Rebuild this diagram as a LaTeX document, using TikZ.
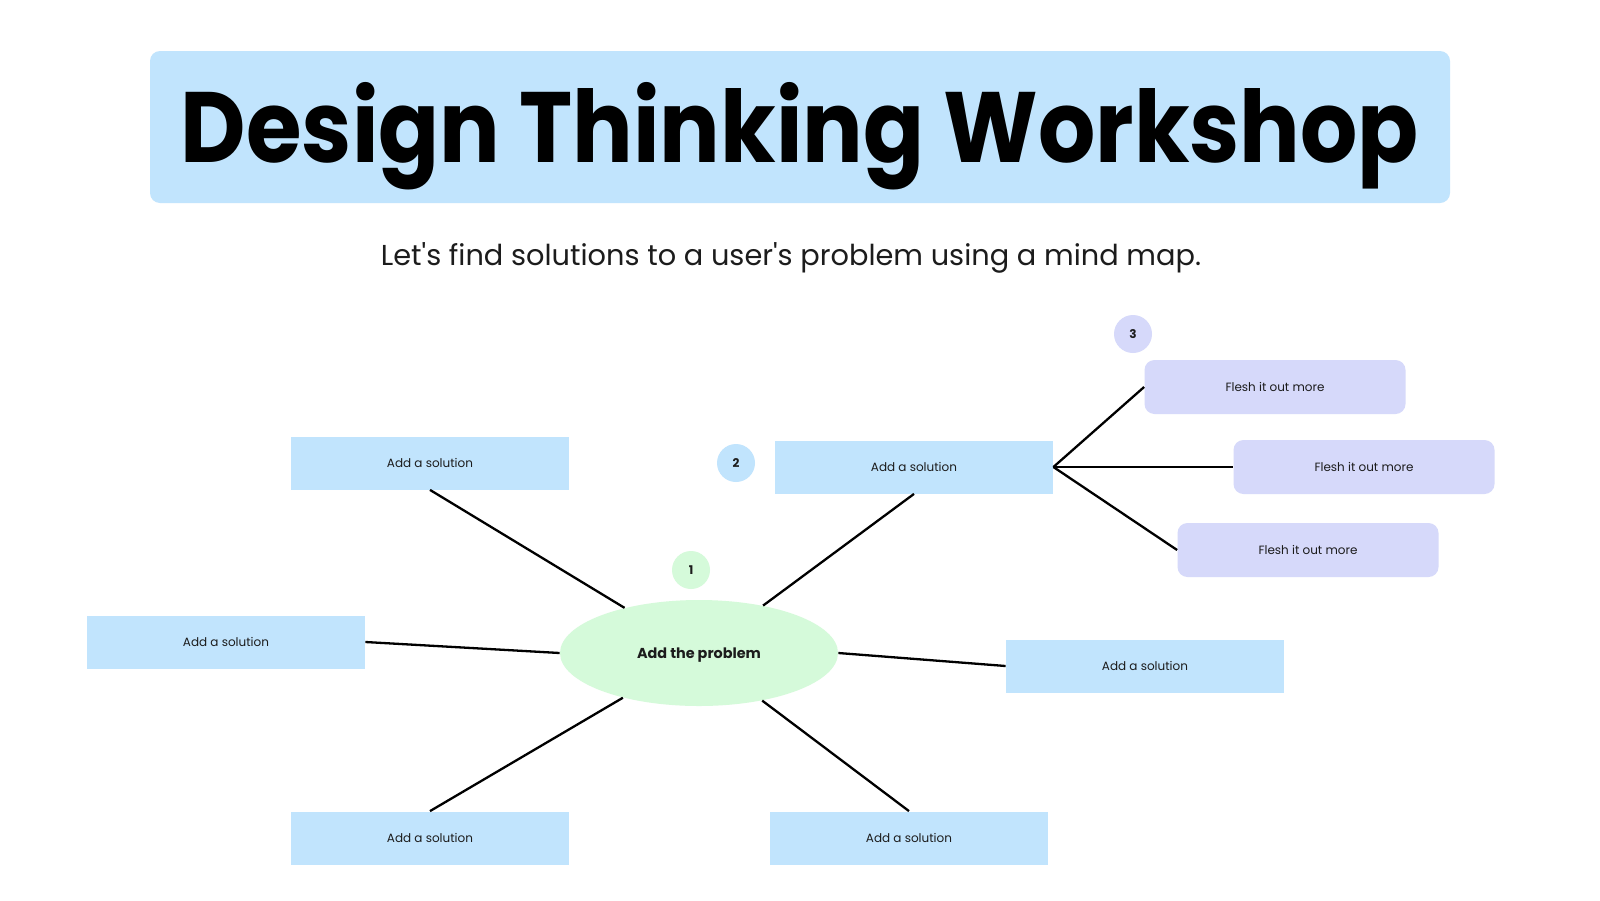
\documentclass[tikz,border=0pt]{standalone}
\usepackage{fontspec}
\setmainfont{Poppins}
\newfontfamily\titlefont{Poppins}[FakeStretch=0.9]
\usepackage{tikz}
\usepackage{xcolor}
\usetikzlibrary{shapes.geometric}

\definecolor{solblue}{HTML}{C1E4FD}
\definecolor{probgreen}{HTML}{D5FADA}
\definecolor{moreviolet}{HTML}{D6D9FA}
\definecolor{inkgray}{HTML}{1C1C1C}

\begin{document}
\begin{tikzpicture}[x=0.5pt,y=-0.5pt,
    solution/.style={fill=solblue,minimum width=139pt,minimum height=26.5pt,inner sep=0pt,
        text=inkgray,font=\fontsize{6}{7}\selectfont},
    fleshbox/.style={fill=moreviolet,rounded corners=5pt,minimum width=130.5pt,minimum height=27pt,
        inner sep=0pt,text=inkgray,font=\fontsize{6}{7}\selectfont},
    problem/.style={ellipse,fill=probgreen,minimum width=139pt,minimum height=53pt,inner sep=0pt,
        text depth=0pt,text=inkgray,font=\fontsize{7.2}{9}\selectfont\bfseries},
    stepnum/.style={circle,minimum size=19pt,inner sep=0pt,text=inkgray,
        font=\fontsize{6}{7}\selectfont\bfseries},
    link/.style={black,line width=1.15pt}]
    % Canvas
    \fill[white] (0,0) rectangle (1600,900);
    \useasboundingbox (0,0) rectangle (1600,900);

    % Title
    \node[fill=solblue,rounded corners=5pt,minimum width=650pt,minimum height=76pt] (titlebox) at (800,127) {};
    \node[anchor=base,font=\fontsize{50}{60}\titlefont\bfseries] (title) at (800,162) {Design Thinking Workshop};
    \node[anchor=base,text=inkgray,font=\fontsize{14.4}{17}\selectfont] (subtitle) at (791,265)
        {Let\textquotesingle s find solutions to a user\textquotesingle s problem using a mind map.};

    % Problem
    \node[problem] (prob) at (699,653) {Add the problem};

    % Solutions
    \node[solution] (sol1) at (430,463) {Add a solution};
    \node[solution] (sol2) at (914,467) {Add a solution};
    \node[solution] (sol3) at (226,642) {Add a solution};
    \node[solution] (sol4) at (1145,666) {Add a solution};
    \node[solution] (sol5) at (430,838) {Add a solution};
    \node[solution] (sol6) at (909,838) {Add a solution};

    % Fleshing out
    \node[fleshbox] (more1) at (1275,387) {Flesh it out more};
    \node[fleshbox] (more2) at (1364,467) {Flesh it out more};
    \node[fleshbox] (more3) at (1308,550) {Flesh it out more};

    % Step numbers
    \node[stepnum,fill=probgreen] (num1) at (691,570) {1};
    \node[stepnum,fill=solblue] (num2) at (736,463) {2};
    \node[stepnum,fill=moreviolet] (num3) at (1133,334) {3};

    % Links
    \draw[link] (prob) -- (sol1.south);
    \draw[link] (prob) -- (sol2.south);
    \draw[link] (prob.west) -- (sol3.east);
    \draw[link] (prob.east) -- (sol4.west);
    \draw[link] (prob) -- (sol5.north);
    \draw[link] (prob) -- (sol6.north);

    \draw[link] (sol2.east) -- (more1.west);
    \draw[link] (sol2.east) -- (more2.west);
    \draw[link] (sol2.east) -- (more3.west);
\end{tikzpicture}
\end{document}
